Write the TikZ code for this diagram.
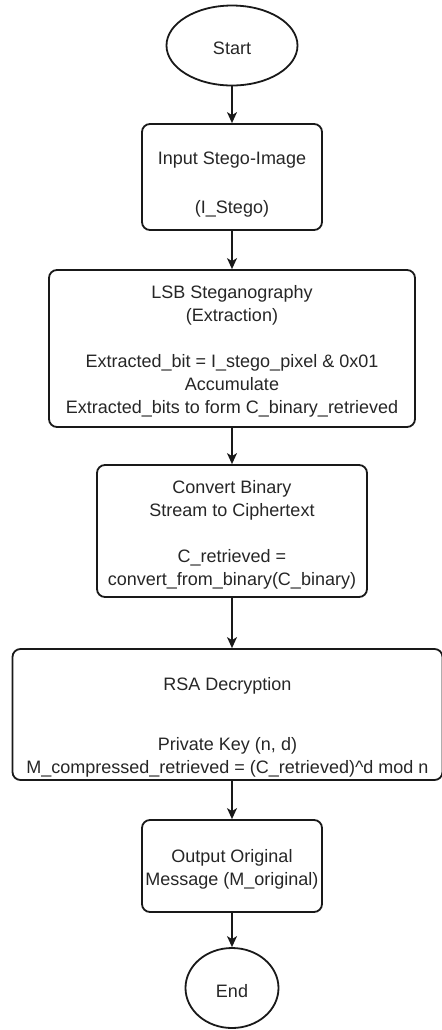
\documentclass[tikz,border=0pt]{standalone}
\usepackage{fontspec}
\setmainfont{Liberation Sans}
\usetikzlibrary{arrows.meta,shapes.geometric,calc}
\begin{document}
\begin{tikzpicture}[x=0.5pt,y=-0.5pt,
  every node/.style={font=\fontsize{9pt}{11.5pt}\selectfont, text=black!85},
  proc/.style={draw=black!90, line width=0.9pt, rounded corners=4pt, inner sep=0pt},
  term/.style={draw=black!90, line width=0.9pt, ellipse, inner sep=0pt},
  txt/.style={align=center, inner sep=0pt},
  arr/.style={draw=black!90, line width=0.7pt, -{Stealth[length=5.5pt,width=5pt,inset=1.5pt]}}
]
\useasboundingbox (0,0) rectangle (441,1030);

% shapes
\node[term, minimum width=65.5pt, minimum height=40pt] (start) at (232,45.5) {};
\node[proc, minimum width=90pt, minimum height=53pt] (input) at (232,177) {};
\node[proc, minimum width=183pt, minimum height=78.5pt] (lsb) at (232,348.5) {};
\node[proc, minimum width=135pt, minimum height=66pt] (conv) at (232,531) {};
\node[proc, minimum width=215pt, minimum height=65.5pt] (rsa) at (227.5,714.5) {};
\node[proc, minimum width=90pt, minimum height=46pt] (out) at (232,866) {};
\node[term, minimum width=46.5pt, minimum height=40pt] (end) at (232,988) {};

% texts
\node[txt] (startT) at ($(start)+(0,3)$) {Start};
\node[txt] (inputT) at (232,185) {Input Stego-Image\\[13pt](I\_Stego)};
\node[txt] (lsbT) at ($(lsb)+(0,3)$)
  {LSB Steganography\\(Extraction)\\[11.5pt]Extracted\_bit = I\_stego\_pixel \& 0x01\\Accumulate\\Extracted\_bits to form C\_binary\_retrieved};
\node[txt] (convT) at ($(conv)+(0,4)$)
  {Convert Binary\\Stream to Ciphertext\\[11.5pt]C\_retrieved =\\convert\_from\_binary(C\_binary)};
\node[txt] (rsaT) at (227.5,727)
  {RSA Decryption\\[18.5pt]Private Key (n, d)\\M\_compressed\_retrieved = (C\_retrieved)\textasciicircum d mod n};
\node[txt] (outT) at ($(out)+(0,3)$) {Output Original\\Message (M\_original)};
\node[txt] (endT) at ($(end)+(0,3.5)$) {End};

% connectors
\draw[arr] (start) -- (input);
\draw[arr] (input) -- (lsb);
\draw[arr] (lsb) -- (conv);
\draw[arr] (conv.south) -- (conv.south |- rsa.north);
\draw[arr] (out.north |- rsa.south) -- (out.north);
\draw[arr] (out) -- (end);
\end{tikzpicture}
\end{document}
